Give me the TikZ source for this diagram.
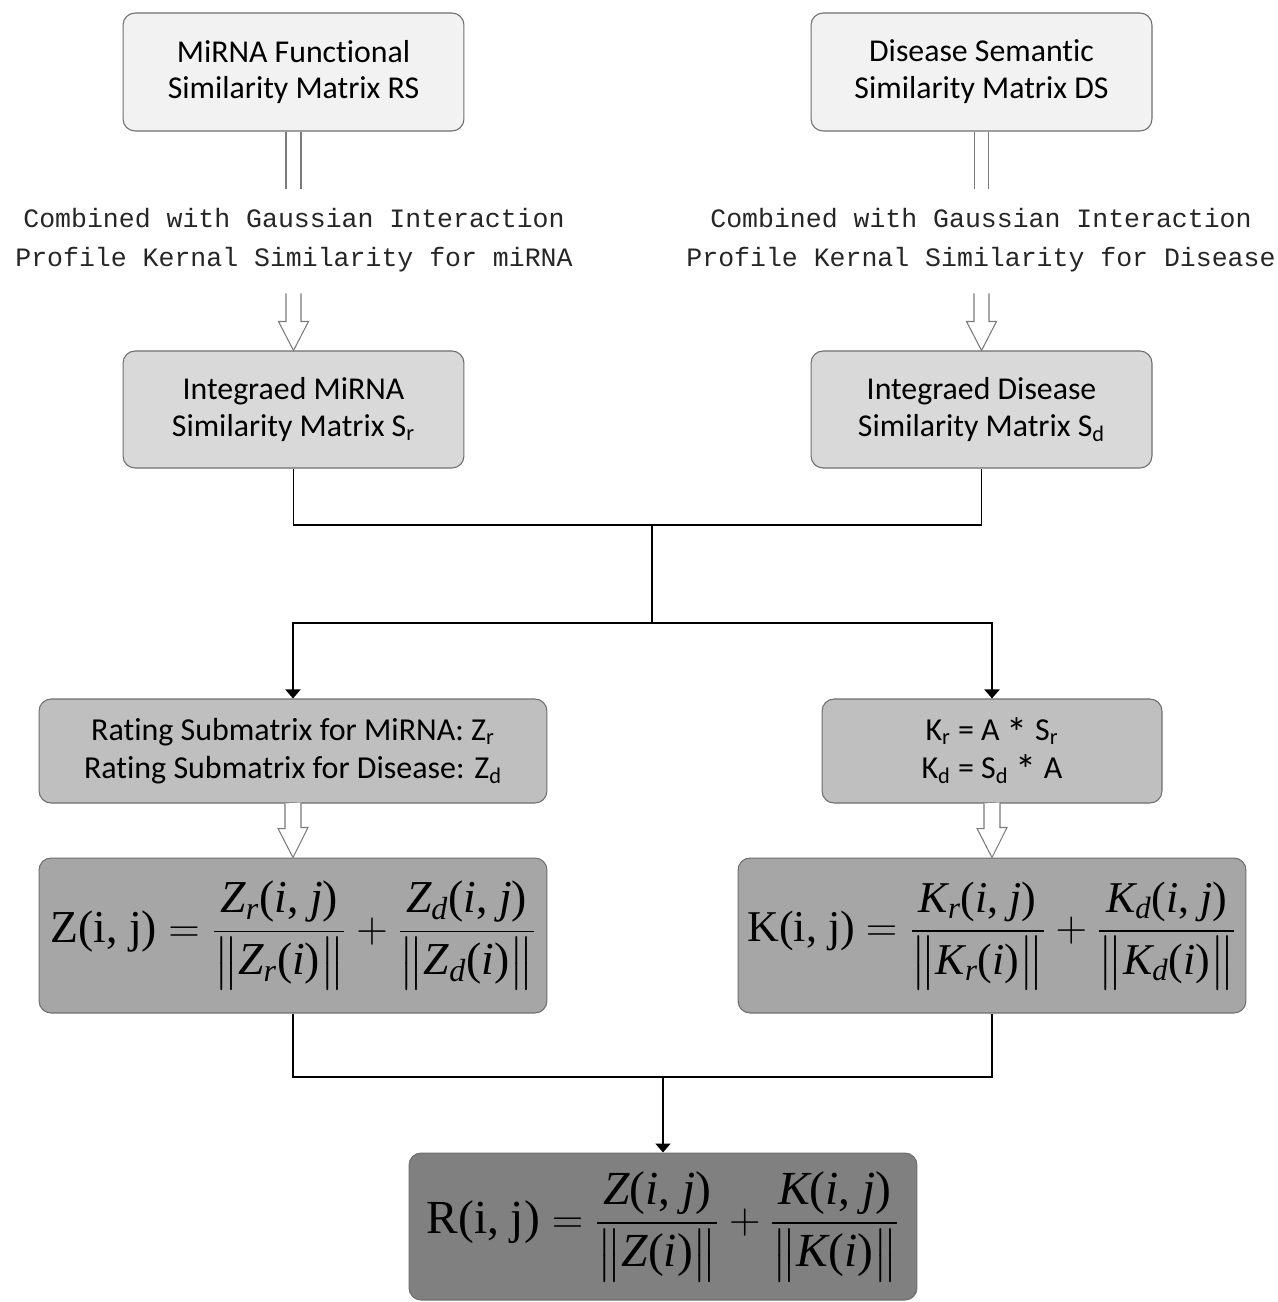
\documentclass[tikz,border=0pt]{standalone}
\usepackage{amsmath}
\usepackage{fontspec}
\setmainfont[Ligatures=NoCommon]{Carlito}
\newfontfamily\tnr{Liberation Serif}
\newfontfamily\mono{Liberation Mono}
\usetikzlibrary{arrows.meta,calc}
\definecolor{fillA}{HTML}{F2F2F2}
\definecolor{fillB}{HTML}{D9D9D9}
\definecolor{fillC}{HTML}{BFBFBF}
\definecolor{fillD}{HTML}{A6A6A6}
\definecolor{fillE}{HTML}{808080}
\definecolor{edgegray}{HTML}{6E6E6E}
\definecolor{linegray}{HTML}{7A7A7A}
\newcommand\mi[1]{\textit{#1}}
\newcommand\tp[1]{\text{#1}}
\newcommand\nrm[1]{\bigl\|#1\bigr\|}
\newcommand\mystar{\raisebox{-0.45ex}{\fontsize{24}{24}\selectfont *}}
\begin{document}
\begin{tikzpicture}[x=0.02cm,y=-0.02cm,
  box/.style={draw=edgegray, line width=0.6pt, rounded corners=0.24cm, align=center, inner sep=0pt, text=black},
  lbl/.style={font=\fontsize{18.1}{21}\selectfont},
  lblsmall/.style={font=\fontsize{18.2}{21.6}\selectfont},
  frm/.style={font=\tnr\fontsize{26}{29}\selectfont},
  midtxt/.style={align=center, inner sep=0pt, text=black!85, font=\mono\fontsize{15.1}{21.9}\selectfont},
  conn/.style={line width=1.1pt, black},
  arr/.style={conn, -{Triangle[width=0.3cm,length=0.18cm]}},
  dbl/.style={draw=linegray, line width=0.6pt},
  hollow/.style={draw=linegray, line width=0.6pt, fill=white, line join=miter}
]
\fill[white] (0,0) rectangle (1278,1302);
\useasboundingbox (0,0) rectangle (1278,1302);

% top boxes
\node[box, lbl, fill=fillA, minimum width=6.82cm, minimum height=2.36cm] (b1) at (293.5,72) {MiRNA Functional\\Similarity Matrix RS};
\node[box, lbl, fill=fillA, minimum width=6.82cm, minimum height=2.36cm] (b2) at (981.5,72) {Disease Semantic\\Similarity Matrix DS};

% middle texts
\node[midtxt] (t1) at (294,240) {Combined with Gaussian Interaction\\Profile Kernal Similarity for miRNA};
\node[midtxt] (t2) at (981,240) {Combined with Gaussian Interaction\\Profile Kernal Similarity for Disease};

% integrated boxes
\node[box, lbl, fill=fillB, minimum width=6.82cm, minimum height=2.34cm] (b3) at (293.5,409.5) {Integraed MiRNA\\Similarity Matrix S\textsubscript{r}};
\node[box, lbl, fill=fillB, minimum width=6.82cm, minimum height=2.34cm] (b4) at (981.5,409.5) {Integraed Disease\\Similarity Matrix S\textsubscript{d}};

% rating boxes
\node[box, lblsmall, fill=fillC, minimum width=10.16cm, minimum height=2.08cm] (b5) at (293,751) {Rating Submatrix for MiRNA: Z\textsubscript{r}\\Rating Submatrix for Disease: Z\textsubscript{d}};
\node[box, lblsmall, fill=fillC, minimum width=6.8cm, minimum height=2.08cm] (b6) at (992,751) {K\textsubscript{r} = A \mystar{} S\textsubscript{r}\\K\textsubscript{d} = S\textsubscript{d} \mystar{} A};

% formula boxes
\node[box, frm, fill=fillD, minimum width=10.16cm, minimum height=3.1cm] (b7) at (293,935.5)
 {Z(i, j) $= \dfrac{\mi{Z}_{\mi{r}}\tp{(}\mi{i}\tp{, }\mi{j}\tp{)}}{\nrm{\mi{Z}_{\mi{r}}\tp{(}\mi{i}\tp{)}}}
   + \dfrac{\mi{Z}_{\mi{d}}\tp{(}\mi{i}\tp{, }\mi{j}\tp{)}}{\nrm{\mi{Z}_{\mi{d}}\tp{(}\mi{i}\tp{)}}}$};
\node[box, frm, fill=fillD, minimum width=10.16cm, minimum height=3.1cm, font=\tnr\fontsize{25}{29}\selectfont] (b8) at (992,935.5)
 {K(i, j) $= \dfrac{\mi{K}_{\mi{r}}\tp{(}\mi{i}\tp{, }\mi{j}\tp{)}}{\nrm{\mi{K}_{\mi{r}}\tp{(}\mi{i}\tp{)}}}
   + \dfrac{\mi{K}_{\mi{d}}\tp{(}\mi{i}\tp{, }\mi{j}\tp{)}}{\nrm{\mi{K}_{\mi{d}}\tp{(}\mi{i}\tp{)}}}$};
\node[box, frm, fill=fillE, minimum width=10.16cm, minimum height=2.94cm, font=\tnr\fontsize{27}{30}\selectfont] (b9) at (663,1226.5)
 {R(i, j) $= \dfrac{\mi{Z}\tp{(}\mi{i}\tp{, }\mi{j}\tp{)}}{\nrm{\mi{Z}\tp{(}\mi{i}\tp{)}}}
   + \dfrac{\mi{K}\tp{(}\mi{i}\tp{, }\mi{j}\tp{)}}{\nrm{\mi{K}\tp{(}\mi{i}\tp{)}}}$};

% double lines from top boxes
\draw[dbl] ($(b1.south)+(-7.5,0)$) -- ++(0,57);
\draw[dbl] ($(b1.south)+(7.5,0)$) -- ++(0,57);
\draw[dbl] ($(b2.south)+(-7,0)$) -- ++(0,57);
\draw[dbl] ($(b2.south)+(7,0)$) -- ++(0,57);

% hollow arrows
\draw[hollow] (b3.north) ++(-7.5,-57) -- ++(0,28) -- ++(-7.5,0) -- (b3.north) -- ++(15,-29) -- ++(-7.5,0) -- ++(0,-28);
\draw[hollow] (b4.north) ++(-7.5,-57) -- ++(0,28) -- ++(-7.5,0) -- (b4.north) -- ++(15,-29) -- ++(-7.5,0) -- ++(0,-28);
\draw[hollow] (b5.south) ++(-8,0) -- ++(0,25) -- ++(-7,0) -- (b7.north) -- ++(15,-30) -- ++(-7,0) -- ++(0,-25);
\draw[hollow] (b6.south) ++(-8,0) -- ++(0,25) -- ++(-7,0) -- (b8.north) -- ++(15,-30) -- ++(-7,0) -- ++(0,-25);

% connectors
\coordinate (j1) at (652,525);
\coordinate (j2) at (652,623);
\coordinate (j3) at (663,1077);
\draw[conn] (b3.south) |- (j1) -| (b4.south);
\draw[conn] (j1) -- (j2);
\draw[arr] (j2) -| (b5.north);
\draw[arr] (j2) -| (b6.north);
\draw[conn] (b7.south) |- (j3) -| (b8.south);
\draw[arr] (j3) -- (b9.north);
\end{tikzpicture}
\end{document}
